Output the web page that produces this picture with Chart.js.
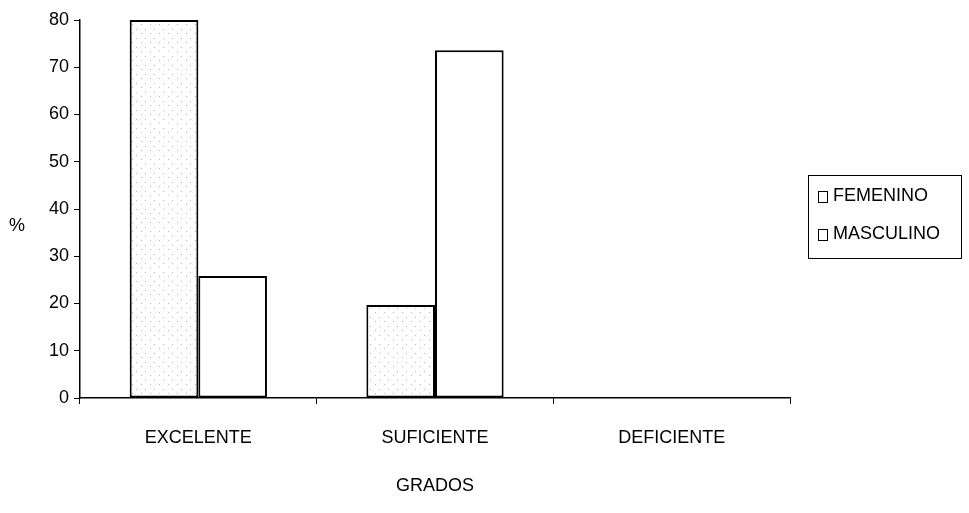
<!DOCTYPE html>
<html>
<head>
<meta charset="utf-8">
<script src="https://cdn.jsdelivr.net/npm/chart.js@4"></script>
<style>
  html, body { margin: 0; padding: 0; background: #fff; }
  #wrap { width: 969px; height: 513px; position: relative; }
</style>
</head>
<body>
<div id="wrap"><canvas id="myChart"></canvas></div>
<script>
(function () {
  "use strict";

  var grados = ["EXCELENTE", "SUFICIENTE", "DEFICIENTE"];
  var femenino = [80, 19.7, 0];
  var masculino = [25.8, 73.6, 0];
  var yTicks = [0, 10, 20, 30, 40, 50, 60, 70, 80];

  var FONT = "'Liberation Sans', Arial, sans-serif";

  // fondo punteado para FEMENINO
  function dots() {
    var c = document.createElement("canvas");
    c.width = 9;
    c.height = 9;
    var g = c.getContext("2d");
    g.fillStyle = "#fff";
    g.fillRect(0, 0, 9, 9);
    g.fillStyle = "#b8b8b8";
    g.fillRect(1, 2, 1, 1);
    g.fillRect(6, 6, 1, 1);
    return g.createPattern(c, "repeat");
  }

  var legendBox = {
    id: "legendBox",
    afterDraw: function (chart) {
      var ctx = chart.ctx;
      ctx.save();
      ctx.strokeStyle = "#000";
      ctx.lineWidth = 1;
      ctx.strokeRect(808.5, 175.5, 153, 83);
      ctx.font = "18px " + FONT;
      ctx.textBaseline = "middle";
      ctx.fillStyle = "#000";
      var ys = [196, 234];
      chart.data.datasets.forEach(function (ds, i) {
        ctx.fillStyle = "#fff";
        ctx.fillRect(818.5, ys[i] - 4.5, 9, 11);
        ctx.strokeRect(818.5, ys[i] - 4.5, 9, 11);
        ctx.fillStyle = "#000";
        ctx.fillText(ds.label, 833, ys[i]);
      });
      // etiqueta del eje y
      ctx.font = "18px " + FONT;
      ctx.textAlign = "center";
      ctx.fillText("%", 17, 226);
      ctx.restore();
    }
  };

  var ctx = document.getElementById("myChart");
  var myChart = new Chart(ctx, {
    type: "bar",
    data: {
      labels: grados,
      datasets: [
        {
          label: "FEMENINO",
          data: femenino,
          backgroundColor: dots(),
          borderColor: "#000",
          borderWidth: 2,
          borderSkipped: false
        },
        {
          label: "MASCULINO",
          data: masculino,
          backgroundColor: "#fff",
          borderColor: "#000",
          borderWidth: 2,
          borderSkipped: false
        }
      ]
    },
    options: {
      responsive: true,
      maintainAspectRatio: false,
      animation: false,
      layout: { padding: { left: 0, top: 20, right: 179, bottom: 12 } },
      plugins: {
        legend: { display: false },
        tooltip: { enabled: false }
      },
      datasets: {
        bar: { barPercentage: 1, categoryPercentage: 0.58 }
      },
      scales: {
        x: {
          offset: true,
          afterFit: function (s) { s.height = 103; },
          grid: { display: true, drawOnChartArea: false, tickLength: 6, color: "#000", offset: true },
          border: { color: "#000", width: 1.5 },
          ticks: { color: "#000", font: { family: FONT, size: 18 }, padding: 23 },
          title: { display: true, text: "GRADOS", color: "#000", font: { family: FONT, size: 18 }, padding: { top: 28 } }
        },
        y: {
          min: 0,
          max: 80,
          afterFit: function (s) { s.width = 80; },
          afterBuildTicks: function (s) {
            s.ticks = yTicks.map(function (v) { return { value: v }; });
          },
          grid: { display: true, drawOnChartArea: false, tickLength: 6, color: "#000" },
          border: { color: "#000", width: 1.5 },
          ticks: { color: "#000", font: { family: FONT, size: 18 }, padding: 5 }
        }
      }
    },
    plugins: [legendBox]
  });
})();
</script>
</body>
</html>
